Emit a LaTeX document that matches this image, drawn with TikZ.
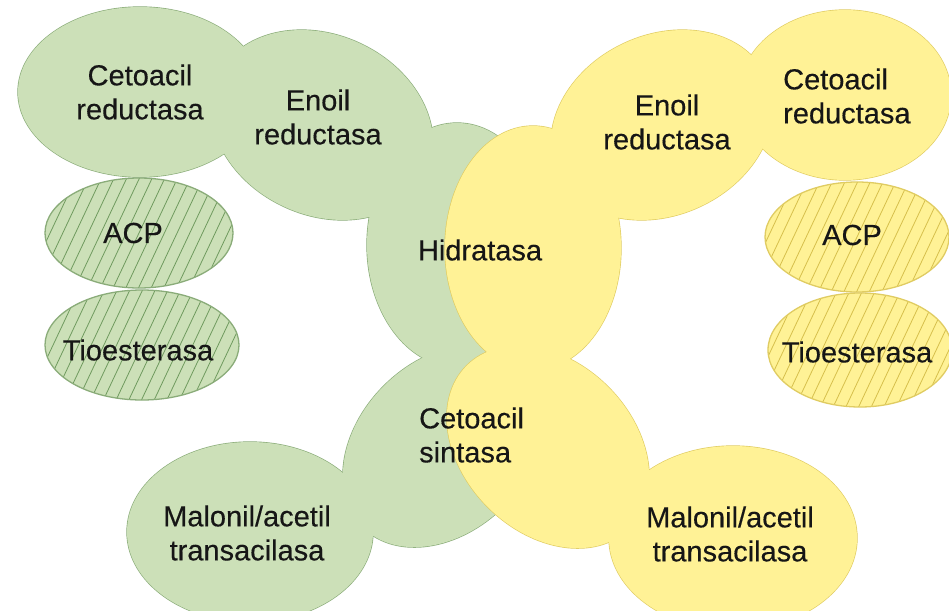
\documentclass[tikz,border=0pt]{standalone}
\usepackage{fontspec}
\setmainfont{Liberation Sans}[FakeBold=0.3]
\definecolor{gfillc}{HTML}{CCE0B8}
\definecolor{glinec}{HTML}{8AAC79}
\definecolor{ghatchc}{HTML}{6F9A5E}
\definecolor{yfillc}{HTML}{FFF296}
\definecolor{ylinec}{HTML}{E0CC62}
\definecolor{yhatchc}{HTML}{D6BF4C}
\definecolor{txtc}{HTML}{161616}
\tikzset{
  gline/.style={draw=glinec, line width=1.3pt},
  gfill/.style={fill=gfillc},
  yline/.style={draw=ylinec, line width=1.3pt},
  yfill/.style={fill=yfillc},
  ghatch/.style={draw=ghatchc, line width=0.8pt},
  yhatch/.style={draw=yhatchc, line width=0.8pt},
  lbl/.style={text=txtc, font=\fontsize{29}{34}\selectfont, inner sep=0pt, align=center},
  lbll/.style={lbl, align=left}
}
\newcommand{\greenlist}{140/92/122/85/0, 322/125/115/90/-25, 457/245/90/122/0, 444/446/115/85/45, 250/532/123/90/0}
\newcommand{\yellowlist}{845/95/106/85/0, 662/125/115/90/25, 533/248/88/122/0, 548/447/115/85/-45, 733/538/124/92/0}
\begin{document}
\begin{tikzpicture}[x=1pt,y=-1pt]
\clip (0,0) rectangle (949,610);
\fill[white] (0,0) rectangle (949,610);
% green complex
\foreach \cx/\cy/\rx/\ry/\rot in \greenlist
  \path[gline, shift={(\cx,\cy)}, rotate=\rot] (0,0) ellipse [x radius=\rx, y radius=\ry];
\foreach \cx/\cy/\rx/\ry/\rot in \greenlist
  \path[gfill, shift={(\cx,\cy)}, rotate=\rot] (0,0) ellipse [x radius=\rx, y radius=\ry];
% yellow complex
\foreach \cx/\cy/\rx/\ry/\rot in \yellowlist
  \path[yline, shift={(\cx,\cy)}, rotate=\rot] (0,0) ellipse [x radius=\rx, y radius=\ry];
\foreach \cx/\cy/\rx/\ry/\rot in \yellowlist
  \path[yfill, shift={(\cx,\cy)}, rotate=\rot] (0,0) ellipse [x radius=\rx, y radius=\ry];
% hatched ellipses
\foreach \cx/\cy/\rx/\ry/\fc/\hs/\ls in {139/233/94/55/gfill/ghatch/gline, 142/345/97/55/gfill/ghatch/gline, 857/237/92/55/yfill/yhatch/yline, 860/350/92/57/yfill/yhatch/yline}{
  \path[\fc] (\cx,\cy) ellipse [x radius=\rx, y radius=\ry];
  \begin{scope}
    \clip (\cx,\cy) ellipse [x radius=\rx, y radius=\ry];
    \foreach \k in {-12,...,12}
      \draw[\hs] (\cx+\k*12.7-33,\cy+70) -- ++(66,-140);
  \end{scope}
  \path[\ls] (\cx,\cy) ellipse [x radius=\rx, y radius=\ry];
}
% labels
\node[lbl] (gcr) at (140,92) {Cetoacil\\reductasa};
\node[lbl] (ger) at (318,117) {Enoil\\reductasa};
\node[lbl] (hid) at (480,250) {Hidratasa};
\node[lbll, anchor=west] (cs) at (419,435) {Cetoacil\\sintasa};
\node[lbl] (gmt) at (247,533) {Malonil/acetil\\transacilasa};
\node[lbl] (gacp) at (133,233) {ACP};
\node[lbl] (gtio) at (138,350) {Tioesterasa};
\node[lbl] (yer) at (667,122) {Enoil\\reductasa};
\node[lbll, anchor=west] (ycr) at (783,96) {Cetoacil\\reductasa};
\node[lbl] (ymt) at (730,534) {Malonil/acetil\\transacilasa};
\node[lbl] (yacp) at (852,235) {ACP};
\node[lbl] (ytio) at (857,352) {Tioesterasa};
\end{tikzpicture}
\end{document}
